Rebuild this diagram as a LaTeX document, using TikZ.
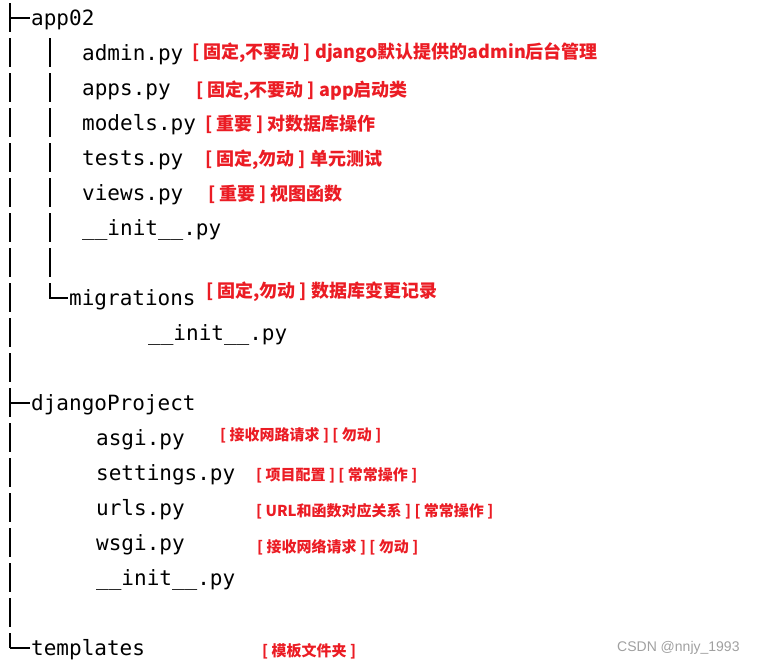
\documentclass[tikz,border=0pt]{standalone}
\usepackage{fontspec}
\setmonofont{DejaVu Sans Mono}
\newfontfamily\cjk{Noto Sans CJK SC}
\newfontfamily\wmfont{Liberation Sans}
\usepackage{xcolor}
\usetikzlibrary{positioning}
\definecolor{notered}{RGB}{235,28,36}
\definecolor{markgray}{RGB}{160,160,160}

\tikzset{
  fname/.style={anchor=base west,inner sep=0pt,font=\ttfamily\fontsize{21}{21}\selectfont},
  note/.style={anchor=west,inner sep=0pt,text=notered,font=\cjk\bfseries\fontsize{18}{18}\selectfont},
  smallnote/.style={note,font=\cjk\bfseries\fontsize{15}{15}\selectfont},
  bar/.style={line width=2pt}
}

\begin{document}
\begin{tikzpicture}[x=1pt,y=-1pt]
  \useasboundingbox (0,0) rectangle (757,665);
  % ---- tree lines: outer bar ----
  \foreach \k in {0,...,17} {
    \draw[bar] (10,{35*\k+3}) -- (10,{35*\k+32});
  }
  \draw[bar] (10,633) -- (10,648);
  \foreach \k in {0,11,18} {
    \draw[bar] (10,{35*\k+18}) -- (30,{35*\k+18});
  }
  % ---- tree lines: app02 inner bar ----
  \foreach \k in {1,...,7} {
    \draw[bar] (50,{35*\k+3}) -- (50,{35*\k+32});
  }
  \draw[bar] (50,283) -- (50,298) -- (68,298);

  % ---- app02 ----
  \node[fname] (app02) at (31,25) {app02};
  \node[fname] (admin) at (82,60) {admin.py};
  \node[fname] (apps) at (82,95) {apps.py};
  \node[fname] (models) at (82,130) {models.py};
  \node[fname] (tests) at (82,165) {tests.py};
  \node[fname] (views) at (82,200) {views.py};
  \node[fname] (appinit) at (82,235) {\_\_init\_\_.py};
  \node[fname] (migr) at (69,305) {migrations};
  \node[fname] (migrinit) at (148,340) {\_\_init\_\_.py};
  \node[note] (admin-note) at (192,53) {[ 固定,不要动 ] django默认提供的admin后台管理};
  \node[note] (apps-note) at (196,91) {[ 固定,不要动 ] app启动类};
  \node[note] (models-note) at (205,124) {[ 重要 ] 对数据库操作};
  \node[note] (tests-note) at (205,160) {[ 固定,勿动 ] 单元测试};
  \node[note] (views-note) at (208,194) {[ 重要 ] 视图函数};
  \node[note] (migr-note) at (206,292) {[ 固定,勿动 ] 数据库变更记录};

  % ---- djangoProject ----
  \node[fname] (proj) at (31,410) {djangoProject};
  \node[fname] (asgi) at (96,445) {asgi.py};
  \node[fname] (settings) at (96,480) {settings.py};
  \node[fname] (urls) at (96,515) {urls.py};
  \node[fname] (wsgi) at (96,550) {wsgi.py};
  \node[fname] (projinit) at (96,585) {\_\_init\_\_.py};
  \node[smallnote] (asgi-note) at (220,435) {[ 接收网路请求 ] [ 勿动 ]};
  \node[smallnote] (settings-note) at (256,475) {[ 项目配置 ] [ 常常操作 ]};
  \node[smallnote] (urls-note) at (256,511) {[ URL和函数对应关系 ] [ 常常操作 ]};
  \node[smallnote] (wsgi-note) at (257,547) {[ 接收网络请求 ] [ 勿动 ]};

  % ---- templates ----
  \node[fname] (templates) at (31,655) {templates};
  \node[smallnote] (templates-note) at (262,651) {[ 模板文件夹 ]};
  \node[anchor=west,inner sep=0pt,text=markgray,font=\wmfont\fontsize{14}{14}\selectfont] (mark) at (617,648) {CSDN @nnjy\_1993};
\end{tikzpicture}
\end{document}
